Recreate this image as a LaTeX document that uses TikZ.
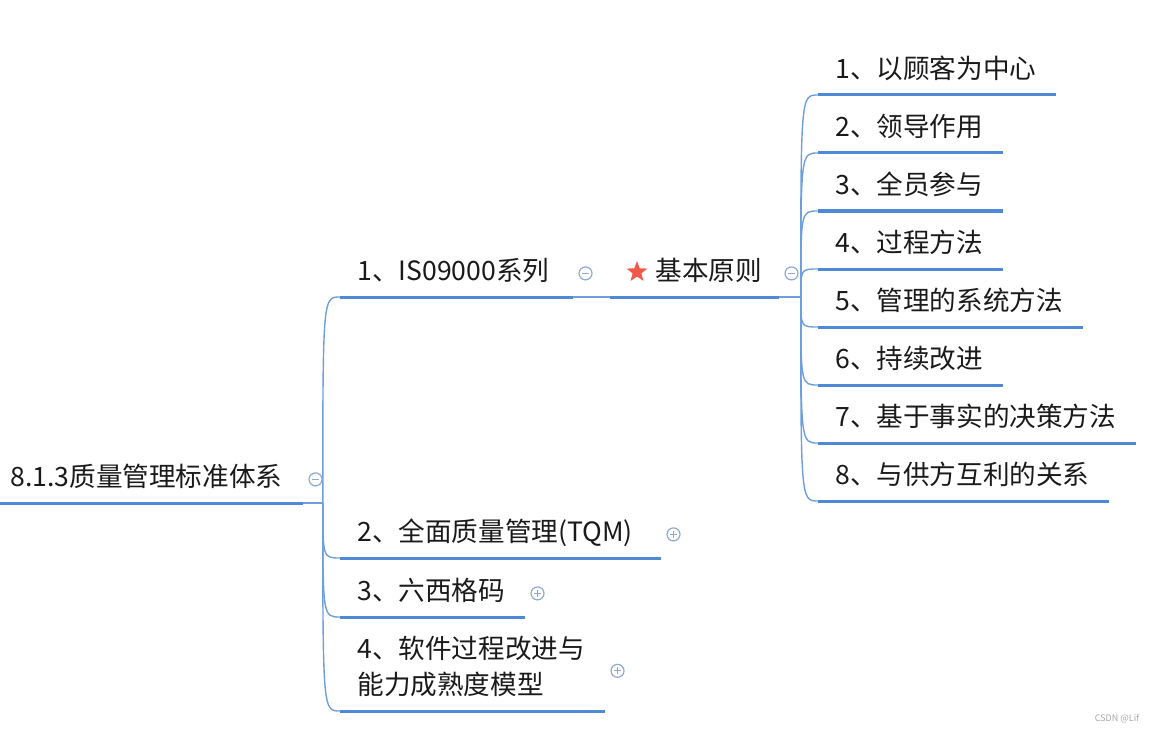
\documentclass[tikz,border=0pt]{standalone}
\usepackage{fontspec}
\setmainfont{Noto Sans CJK SC}
\usetikzlibrary{positioning,shapes.geometric,calc}
\definecolor{mline}{HTML}{4F89D6}
\definecolor{mconn}{HTML}{6E9FDC}
\definecolor{mfold}{HTML}{8FA9D2}
\definecolor{mstar}{HTML}{F2594B}
\definecolor{mtext}{HTML}{1A1A1A}
\tikzset{topic/.style={anchor=south west, inner xsep=8.5pt, inner ysep=2.6pt, text width=#1, align=left, text=mtext, font=\fontsize{13.3}{18}\selectfont, execute at end node=\strut}}
\tikzset{uline/.style={draw=mline, line width=1.5pt}}
\tikzset{mbranch/.style={draw=mconn, line width=0.7pt}}
\tikzset{fold/.style={circle, draw=mfold, fill=white, line width=0.6pt, minimum size=6.5pt, inner sep=0pt}}
\tikzset{foldminus/.style={fold, path picture={\draw[mfold, line width=0.6pt] ([xshift=-1.7pt]path picture bounding box.center) -- ([xshift=1.7pt]path picture bounding box.center);}}}
\tikzset{foldplus/.style={fold, path picture={\draw[mfold, line width=0.6pt] ([xshift=-1.7pt]path picture bounding box.center) -- ([xshift=1.7pt]path picture bounding box.center) ([yshift=-1.7pt]path picture bounding box.center) -- ([yshift=1.7pt]path picture bounding box.center);}}}
\tikzset{prstar/.style={star, star points=5, star point ratio=2.4, fill=mstar, draw=none, minimum size=11pt, inner sep=0pt}}
\tikzset{wmark/.style={font=\fontsize{4.5}{5}\selectfont, text=black!35, inner sep=0pt}}

\begin{document}
\begin{tikzpicture}[x=0.5pt, y=-0.5pt]
  \useasboundingbox (0,0) rectangle (1152,733);

  % topics
  \node[topic=141pt, inner xsep=5pt] (root) at (0,503) {8.1.3质量管理标准体系};
  \node[topic=99pt] (c1) at (340,297) {1、IS09000系列};
  \node[topic=143pt] (c2) at (340,558) {2、全面质量管理(TQM)};
  \node[topic=75pt] (c3) at (340,617) {3、六西格码};
  \node[topic=115pt] (c4) at (340,711) {4、软件过程改进与\\能力成熟度模型};
  \node[topic=67pt] (principle) at (610,297) {\hspace*{14pt}基本原则};
  \node[prstar] (star) at ([xshift=13.5pt,yshift=12.5pt]principle.south west) {};

  \foreach \i/\txt/\w in {1/以顾客为中心/101.5pt, 2/领导作用/75pt, 3/全员参与/75pt, 4/过程方法/75pt,
                          5/管理的系统方法/115pt, 6/持续改进/75pt, 7/基于事实的决策方法/141.5pt, 8/与供方互利的关系/128pt}
    \node[topic=\w] (p\i) at (818,{95+58*(\i-1)}) {\i、\txt};

  % underlines
  \foreach \n in {root,c1,c2,c3,c4,principle,p1,p2,p3,p4,p5,p6,p7,p8}
    \draw[uline] (\n.south west) -- (\n.south east);

  % branches
  \coordinate (rj) at ([xshift=10pt]root.south east);
  \coordinate (pj) at ([xshift=11pt]principle.south east);
  \draw[mbranch] (root.south east) -- (rj);
  \foreach \c in {c1,c2,c3,c4}
    \draw[mbranch] (rj) .. controls (rj |- \c.south west) .. (\c.south west);
  \draw[mbranch] (c1.south east) -- (principle.south west);
  \draw[mbranch] (principle.south east) -- (pj);
  \foreach \i in {1,...,8}
    \draw[mbranch] (pj) .. controls (pj |- p\i.south west) .. (p\i.south west);

  % fold markers
  \node[foldminus, right=2.8pt of root.east] (rootfold) {};
  \node[foldminus, right=2.8pt of c1.east] (c1fold) {};
  \node[foldminus, right=2.8pt of principle.east] (principlefold) {};
  \node[foldplus, right=2.8pt of c2.east] (c2fold) {};
  \node[foldplus, right=2.8pt of c3.east] (c3fold) {};
  \node[foldplus, right=2.8pt of c4.east] (c4fold) {};

  \node[wmark] (mark) at (1117,719) {CSDN @Lif};
\end{tikzpicture}
\end{document}
